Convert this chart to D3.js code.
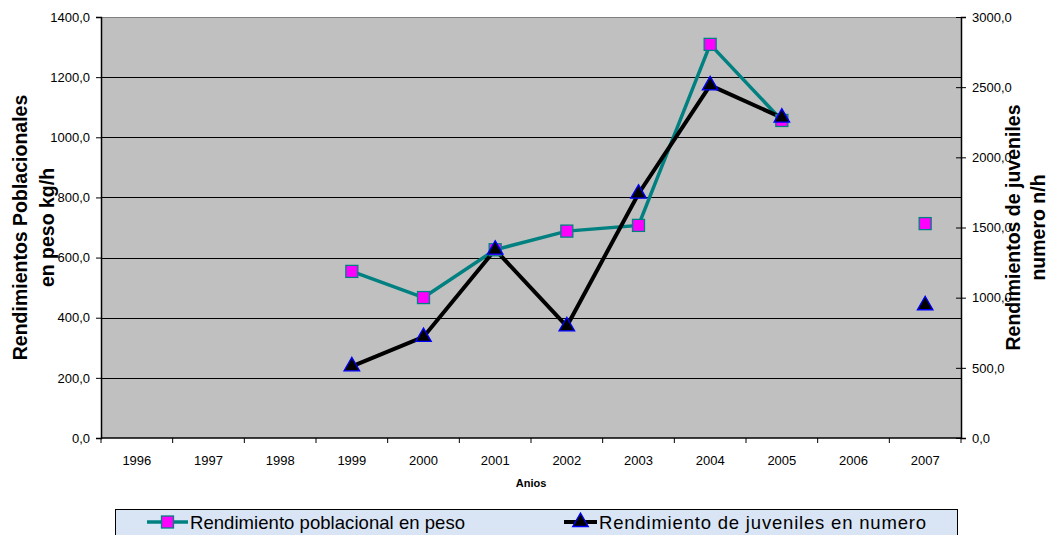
<!DOCTYPE html>
<html>
<head>
<meta charset="utf-8">
<script src="https://cdn.jsdelivr.net/npm/d3@7"></script>
<style>
  body { margin: 0; background: #fff; }
  svg { display: block; font-family: "Liberation Sans", Arial, sans-serif; }
</style>
</head>
<body>
<svg id="chart" width="1051" height="535"></svg>
<script>
// Years on the category axis
const years = ["1996","1997","1998","1999","2000","2001","2002","2003","2004","2005","2006","2007"];
// Population yield by weight (kg/h), left axis; null = no sample
const pesoValues = [null, null, null, 554, 467, 626, 688, 707, 1309, 1056, null, 713];
// Juvenile yield by number (n/h), right axis
const numeroValues = [null, null, null, 511, 720, 1342, 796, 1741, 2513, 2283, null, 946];
// Axis tick values
const leftTicks = [0, 200, 400, 600, 800, 1000, 1200, 1400];
const rightTicks = [0, 500, 1000, 1500, 2000, 2500, 3000];
const seriesNames = ["Rendimiento poblacional en peso", "Rendimiento de juveniles en numero"];

const svg = d3.select("#chart");
const plot = { left: 101, right: 961, top: 17, bottom: 438 };

const x = d3.scaleBand().domain(years).range([plot.left, plot.right]);
const yL = d3.scaleLinear().domain([0, 1400]).range([plot.bottom, plot.top]);
const yR = d3.scaleLinear().domain([0, 3000]).range([plot.bottom, plot.top]);
const fmt = v => d3.format(".1f")(v).replace(".", ",");

// Plot background
svg.append("rect")
  .attr("x", plot.left).attr("y", plot.top)
  .attr("width", plot.right - plot.left).attr("height", plot.bottom - plot.top)
  .attr("fill", "#c0c0c0");

// Horizontal gridlines
svg.append("g").selectAll("line")
  .data(leftTicks.filter(t => t > 0 && t < 1400))
  .join("line")
  .attr("x1", plot.left).attr("x2", plot.right)
  .attr("y1", d => Math.round(yL(d)) + 0.5).attr("y2", d => Math.round(yL(d)) + 0.5)
  .attr("stroke", "#000").attr("stroke-width", 1);

// Plot top border (grey)
svg.append("line")
  .attr("x1", plot.left).attr("x2", plot.right)
  .attr("y1", plot.top + 0.5).attr("y2", plot.top + 0.5)
  .attr("stroke", "#808080");

// Left axis
const gL = svg.append("g").attr("transform", `translate(${plot.left},0)`)
  .call(d3.axisLeft(yL).tickValues(leftTicks).tickFormat(fmt).tickSize(5).tickPadding(6));
// Right axis
const gR = svg.append("g").attr("transform", `translate(${plot.right},0)`)
  .call(d3.axisRight(yR).tickValues(rightTicks).tickFormat(fmt).tickSize(5).tickPadding(6));
gR.selectAll(".tick line").attr("x1", -5);
// Bottom axis
const gB = svg.append("g").attr("transform", `translate(0,${plot.bottom})`)
  .call(d3.axisBottom(x).tickSize(0).tickPadding(18));
gB.selectAll(".tick line").remove();
gB.append("g").selectAll("line")
  .data(years.concat(["end"]))
  .join("line")
  .attr("x1", (d, i) => plot.left + i * x.step())
  .attr("x2", (d, i) => plot.left + i * x.step())
  .attr("y1", 0).attr("y2", 5)
  .attr("stroke", "#000");

[gL, gR, gB].forEach(g => {
  g.selectAll("text").attr("font-size", 13).attr("fill", "#000")
    .attr("font-family", "'Liberation Sans', Arial, sans-serif");
  g.select(".domain").attr("stroke", "#000").attr("stroke-width", 1.5);
  g.selectAll(".tick line").attr("stroke", "#000");
});
gB.select(".domain").attr("d", `M${plot.left},0H${plot.right}`);

// Axis titles
const midY = (plot.top + plot.bottom) / 2;
const titles = [
  { x: 20, text: "Rendimientos Poblacionales" },
  { x: 47, text: "en peso kg/h" },
  { x: 1013, text: "Rendimientos de juveniles" },
  { x: 1038, text: "numero n/h" }
];
titles.forEach(t => {
  svg.append("text")
    .attr("transform", `translate(${t.x},${midY}) rotate(-90)`)
    .attr("text-anchor", "middle").attr("dominant-baseline", "central")
    .attr("font-size", 19.5).attr("font-weight", "bold")
    .text(t.text);
});
svg.append("text")
  .attr("x", (plot.left + plot.right) / 2).attr("y", 487)
  .attr("text-anchor", "middle")
  .attr("font-size", 11).attr("font-weight", "bold")
  .text("Anios");

const cx = d => x(d) + x.bandwidth() / 2;
const pesoData = years.map((yr, i) => ({ yr, v: pesoValues[i] }));
const numData = years.map((yr, i) => ({ yr, v: numeroValues[i] }));

// Weight series (teal line, magenta squares)
svg.append("path")
  .datum(pesoData)
  .attr("fill", "none").attr("stroke", "#008080").attr("stroke-width", 3.5)
  .attr("d", d3.line().defined(d => d.v != null).x(d => cx(d.yr)).y(d => yL(d.v)));

// Juvenile series (black line)
svg.append("path")
  .datum(numData)
  .attr("fill", "none").attr("stroke", "#000").attr("stroke-width", 4)
  .attr("d", d3.line().defined(d => d.v != null).x(d => cx(d.yr)).y(d => yR(d.v)));

const sq = 12;
svg.append("g").selectAll("rect")
  .data(pesoData.filter(d => d.v != null))
  .join("rect")
  .attr("x", d => cx(d.yr) - sq / 2).attr("y", d => yL(d.v) - sq / 2)
  .attr("width", sq).attr("height", sq)
  .attr("fill", "#ff00ff").attr("stroke", "#008080").attr("stroke-width", 1.3);

const tri = d3.symbol().type(d3.symbolTriangle).size(105);
svg.append("g").selectAll("path")
  .data(numData.filter(d => d.v != null))
  .join("path")
  .attr("transform", d => `translate(${cx(d.yr)},${yR(d.v)})`)
  .attr("d", tri)
  .attr("fill", "#000").attr("stroke", "#0000ff").attr("stroke-width", 1.3);

// Legend
const lg = svg.append("g");
lg.append("rect")
  .attr("x", 115.5).attr("y", 509.5).attr("width", 842).attr("height", 30)
  .attr("fill", "#d9e5f5").attr("stroke", "#000").attr("stroke-width", 1);

const legendItems = [
  { x0: 147, x1: 188, text: seriesNames[0], kind: "sq", w: 275 },
  { x0: 564, x1: 597, text: seriesNames[1], kind: "tri", w: 327 }
];
const ly = 522;
legendItems.forEach(it => {
  lg.append("line")
    .attr("x1", it.x0).attr("x2", it.x1).attr("y1", ly).attr("y2", ly)
    .attr("stroke", it.kind === "sq" ? "#008080" : "#000")
    .attr("stroke-width", it.kind === "sq" ? 3.5 : 4);
  const mx = (it.x0 + it.x1) / 2;
  if (it.kind === "sq") {
    lg.append("rect").attr("x", mx - 6).attr("y", ly - 6).attr("width", 12).attr("height", 12)
      .attr("fill", "#ff00ff").attr("stroke", "#008080").attr("stroke-width", 1.3);
  } else {
    lg.append("path").attr("transform", `translate(${mx},${ly})`).attr("d", tri)
      .attr("fill", "#000").attr("stroke", "#0000ff").attr("stroke-width", 1.3);
  }
  lg.append("text")
    .attr("x", it.x1 + 2).attr("y", ly).attr("dominant-baseline", "central")
    .attr("font-size", 18.5)
    .attr("textLength", it.w).attr("lengthAdjust", "spacing")
    .text(it.text);
});
</script>
</body>
</html>
